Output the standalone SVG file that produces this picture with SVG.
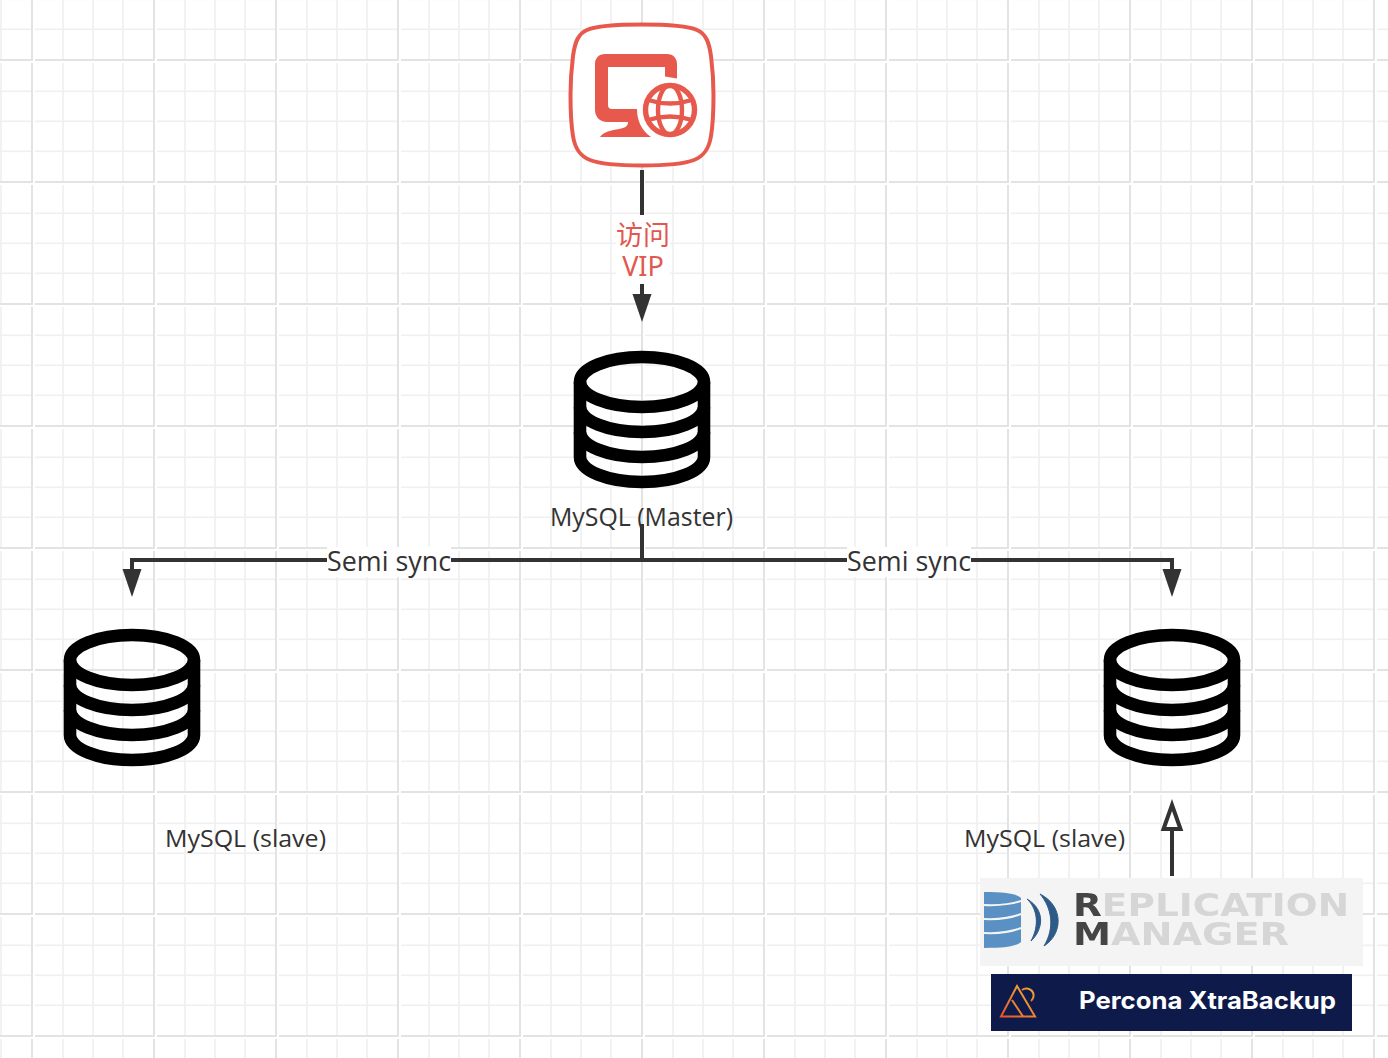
<svg xmlns="http://www.w3.org/2000/svg" width="1388" height="1058" viewBox="0 0 1388 1058">
<style>
.lbl{font-family:"Open Sans","Noto Sans","Noto Sans CJK SC",sans-serif;fill:#333}
.vip{font-family:"Noto Sans","Noto Sans CJK SC",sans-serif;fill:#e2584f;font-size:27px;text-anchor:middle}
.line{fill:none;stroke:#333;stroke-width:4}
.db{fill:none;stroke:#000;stroke-width:12.6}
.bg{fill:#fff}
</style>
<defs>
<pattern id="grid" patternUnits="userSpaceOnUse" x="31" y="59" width="122" height="122">
<rect width="122" height="122" fill="#fff"/>
<g fill="#f0f0f0">
<rect x="31.2" y="0" width="1.6" height="122"/><rect x="61.2" y="0" width="1.6" height="122"/><rect x="91.2" y="0" width="1.6" height="122"/>
<rect x="0" y="31.500" width="122" height="1.6"/><rect x="0" y="61.500" width="122" height="1.6"/><rect x="0" y="91.500" width="122" height="1.6"/>
</g>
<rect x="0" y="0" width="122" height="2" fill="#e3e3e3"/>
<rect x="0" y="0" width="2" height="122" fill="#e3e3e3"/>
<rect x="2" y="0" width="2" height="122" fill="#fff"/>
<rect x="0" y="2" width="122" height="2" fill="#fff"/>
</pattern>
<marker id="arrow" markerUnits="userSpaceOnUse" markerWidth="30" markerHeight="20" refX="0" refY="10" orient="auto" overflow="visible">
<path d="M0 0.500L28 10L0 19.500Z" fill="#333"/>
</marker>
<marker id="arrow-open" markerUnits="userSpaceOnUse" markerWidth="30" markerHeight="24" refX="0" refY="12" orient="auto" overflow="visible">
<path d="M0 3.500L24 12L0 20.500Z" fill="#fff" stroke="#333" stroke-width="4"/>
</marker>
<g id="cyl" class="db">
<ellipse cx="642" cy="382" rx="62" ry="25"/>
<path d="M580 382V457A62 25 0 0 0 704 457V382"/>
<path d="M580 407A62 25 0 0 0 704 407"/>
<path d="M580 432A62 25 0 0 0 704 432"/>
</g>
<linearGradient id="pg" x1="0" y1="1" x2="1" y2="0">
<stop offset="0" stop-color="#e8502a"/><stop offset="1" stop-color="#f2b53c"/>
</linearGradient>
<filter id="soft" x="-5%" y="-5%" width="110%" height="110%"><feGaussianBlur stdDeviation="0.6"/></filter>
</defs>
<rect id="background" width="1388" height="1058" fill="url(#grid)"/>

<g id="connectors">
<path class="line" d="M642 170V294" marker-end="url(#arrow)"/>
<path class="line" d="M642 524V560H132V569" marker-end="url(#arrow)"/>
<path class="line" d="M642 560H1172V569" marker-end="url(#arrow)"/>
<path class="line" d="M1172 876V829" marker-end="url(#arrow-open)"/>
</g>

<g id="edge-label-vip">
<rect class="bg" x="616" y="215" width="54" height="69"/>
<text class="vip" x="643" y="245">访问</text>
<text class="vip" x="643" y="276">VIP</text>
</g>
<g id="edge-label-semi-left">
<rect class="bg" x="327" y="547" width="124" height="30"/>
<text class="lbl" x="327" y="571" font-size="27" textLength="124" lengthAdjust="spacingAndGlyphs">Semi sync</text>
</g>
<g id="edge-label-semi-right">
<rect class="bg" x="847" y="547" width="124" height="30"/>
<text class="lbl" x="847" y="571" font-size="27" textLength="124" lengthAdjust="spacingAndGlyphs">Semi sync</text>
</g>

<g id="client">
<path d="M642 24.500C668 24.500 688 26 697 30C706 34 709 42 711 56C713 72 713.500 82 713.500 95C713.500 112 713 124 711 136C709 149 704 156 694 160C684 164 665 165.500 642 165.500C619 165.500 600 164 590 160C580 156 575 149 573 136C571 124 570.500 112 570.500 95C570.500 82 571 72 573 56C575 42 578 34 587 30C596 26 616 24.500 642 24.500Z" fill="#fff" stroke="#e8594d" stroke-width="4"/>
<path d="M605 54H667C673 54 677 58 677 64V78.500L665 76.500V67H608V105Q608 109 612 109H637C637 120 641 130 651 137H600C603 132 612 130 619 129C625 128 628 126 628 122H607C600 122 595 117 595 110V64C595 58 599 54 605 54Z" fill="#e8594d"/>
<g fill="none" stroke="#e8594d">
<circle cx="670" cy="110" r="24.500" stroke-width="5.400"/>
<ellipse cx="670" cy="110" rx="12" ry="24.500" stroke-width="4.400"/>
<path d="M648 100Q670 107 692 100M648 120Q670 113 692 120" stroke-width="4.400"/>
</g>
</g>

<g id="master">
<use href="#cyl"/>
<text class="lbl" x="550" y="526" font-size="26" textLength="183" lengthAdjust="spacingAndGlyphs">MySQL (Master)</text>
</g>
<path class="line" d="M642 524V540"/>

<g id="slave-left">
<use href="#cyl" x="-510" y="278"/>
<text class="lbl" x="165" y="847" font-size="24" textLength="161" lengthAdjust="spacingAndGlyphs">MySQL (slave)</text>
</g>
<g id="slave-right">
<use href="#cyl" x="530" y="278"/>
<text class="lbl" x="964" y="847" font-size="24" textLength="161" lengthAdjust="spacingAndGlyphs">MySQL (slave)</text>
</g>

<g id="replication-manager">
<rect x="980" y="878" width="383" height="88" fill="#f4f4f4"/>
<g filter="url(#soft)">
<path d="M984 892C1002 892 1016 893 1021 898V942C1016 947 1002 948 984 948Z" fill="#5a90c4"/>
<path d="M984 905Q1006 906 1021 901M984 919Q1006 920 1021 914M984 933Q1006 934 1021 928" fill="none" stroke="#f4f4f4" stroke-width="2"/>
<path d="M1027 899C1037 908 1040 925 1031 941C1043 930 1046 910 1027 899Z" fill="#2d5a88" stroke="#2d5a88"/>
<path d="M1040 894C1052 908 1055 928 1044 946C1063 934 1064 906 1040 894Z" fill="#2d5a88" stroke="#2d5a88"/>
<text x="1073" y="916" font-family="'DejaVu Sans',sans-serif" font-weight="700" font-size="32" fill="#d6d6d6" textLength="276" lengthAdjust="spacingAndGlyphs"><tspan fill="#444">R</tspan>EPLICATION</text>
<text x="1073" y="945" font-family="'DejaVu Sans',sans-serif" font-weight="700" font-size="32" fill="#d6d6d6" textLength="216" lengthAdjust="spacingAndGlyphs"><tspan fill="#444">M</tspan>ANAGER</text>
</g>
</g>

<g id="percona-xtrabackup">
<rect x="991" y="974" width="361" height="57" fill="#0e1a4a"/>
<g fill="none" stroke="url(#pg)" stroke-width="2">
<path d="M1001 1016.500L1017 986L1035 1016.500Z"/>
<path d="M1012 1000L1023 1016.500"/>
<path d="M1022 990A7 7 0 0 1 1031 1001"/>
</g>
<text x="1079" y="1009" font-family="Inter,'Noto Sans',sans-serif" font-weight="700" font-size="24" fill="#fff" textLength="257" lengthAdjust="spacingAndGlyphs">Percona XtraBackup</text>
</g>
</svg>
